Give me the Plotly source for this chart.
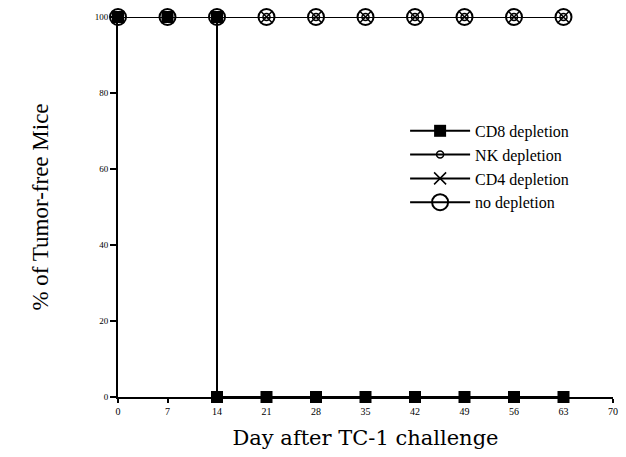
import plotly.graph_objects as go

days_all = [0, 7, 14, 21, 28, 35, 42, 49, 56, 63]
cd8_days = [0, 7, 14, 14, 21, 28, 35, 42, 49, 56, 63]
cd8_vals = [100, 100, 100, 0, 0, 0, 0, 0, 0, 0, 0]
nk_vals = [100, 100, 100, 100, 100, 100, 100, 100, 100, 100]
cd4_vals = [100, 100, 100, 100, 100, 100, 100, 100, 100, 100]
no_vals = [100, 100, 100, 100, 100, 100, 100, 100, 100, 100]
x_ticks = [0, 7, 14, 21, 28, 35, 42, 49, 56, 63, 70]
y_ticks = [0, 20, 40, 60, 80, 100]

serif = "Liberation Serif, DejaVu Serif, serif"
line = dict(color="black", width=2)

fig = go.Figure()
fig.add_trace(go.Scatter(x=cd8_days, y=cd8_vals, name="CD8 depletion", mode="lines+markers",
                         line=line, cliponaxis=False,
                         marker=dict(symbol="square", size=12, color="black")))
fig.add_trace(go.Scatter(x=days_all, y=nk_vals, name="NK depletion", mode="lines+markers",
                         line=line, cliponaxis=False,
                         marker=dict(symbol="circle-open", size=7, color="black", line=dict(width=1.5))))
fig.add_trace(go.Scatter(x=days_all, y=cd4_vals, name="CD4 depletion", mode="lines+markers",
                         line=line, cliponaxis=False,
                         marker=dict(symbol="x-thin-open", size=12, color="black", line=dict(width=1.5))))
fig.add_trace(go.Scatter(x=days_all, y=no_vals, name="no depletion", mode="lines+markers",
                         line=line, cliponaxis=False,
                         marker=dict(symbol="circle-open", size=16, color="black", line=dict(width=2))))

fig.update_layout(
    width=626, height=457,
    margin=dict(l=118, r=8, t=17, b=60),
    paper_bgcolor="white", plot_bgcolor="white",
    font=dict(family=serif, color="black"),
    showlegend=True,
    legend=dict(x=0.58, y=0.745, xanchor="left", yanchor="top",
                font=dict(family=serif, size=16, color="black"),
                bgcolor="rgba(0,0,0,0)", tracegroupgap=0, itemwidth=60),
    xaxis=dict(range=[0, 70], tickvals=x_ticks, showgrid=False, zeroline=False,
               showline=True, linecolor="black", linewidth=2,
               ticks="outside", ticklen=4, tickwidth=1.5, tickcolor="black",
               tickfont=dict(family=serif, size=10, color="black"),
               title=dict(text="Day after TC-1 challenge",
                          font=dict(family="DejaVu Serif, serif", size=21, color="black"), standoff=14)),
    yaxis=dict(range=[0, 100], tickvals=y_ticks, showgrid=False, zeroline=False,
               showline=True, linecolor="black", linewidth=2,
               ticks="outside", ticklen=6, tickwidth=1.5, tickcolor="black",
               tickfont=dict(family=serif, size=9, color="black"),
               title=dict(text="% of Tumor-free Mice",
                          font=dict(family=serif, size=23, color="black"), standoff=40)),
)

fig.write_html("out.html")
